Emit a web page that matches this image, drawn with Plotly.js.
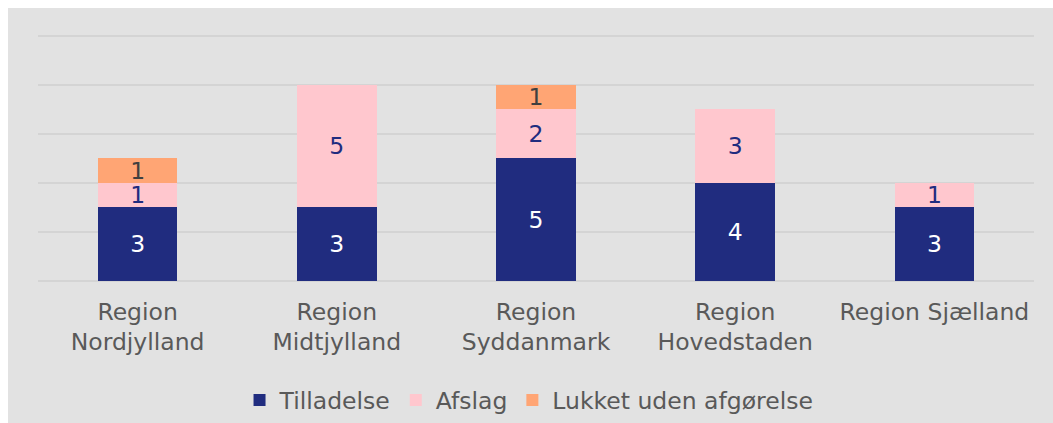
<!DOCTYPE html>
<html>
<head>
<meta charset="utf-8">
<script src="https://cdn.plot.ly/plotly-3.0.1.min.js"></script>
<style>
  html, body { margin: 0; padding: 0; background: #ffffff; }
  #chart { position: absolute; left: 8px; top: 8px; width: 1045px; height: 415px; }
</style>
</head>
<body>
<div id="chart"></div>
<script>
const categories = ["Region<br>Nordjylland", "Region<br>Midtjylland", "Region<br>Syddanmark", "Region<br>Hovedstaden", "Region Sjælland"];
const tilladelse = [3, 3, 5, 4, 3];
const afslag = [1, 5, 2, 3, 1];
const lukket = [1, null, 1, null, null];
const seriesNames = ["Tilladelse", "Afslag", "Lukket uden afgørelse"];

const FONT = "Verdana, 'DejaVu Sans', sans-serif";
const FS = 23.5;

function labels(arr) { return arr.map(v => (v === null ? "" : String(v))); }

const common = {
  type: "bar",
  x: categories,
  textposition: "inside",
  insidetextanchor: "middle",
  constraintext: "none",
  textangle: 0,
  hoverinfo: "none",
  cliponaxis: false
};

const traces = [
  Object.assign({}, common, {
    name: seriesNames[0], y: tilladelse, text: labels(tilladelse),
    marker: { color: "#202c7f" },
    insidetextfont: { family: FONT, size: FS, color: "#ffffff" }
  }),
  Object.assign({}, common, {
    name: seriesNames[1], y: afslag, text: labels(afslag),
    marker: { color: "#ffc7ce" },
    insidetextfont: { family: FONT, size: FS, color: "#202c7f" }
  }),
  Object.assign({}, common, {
    name: seriesNames[2], y: lukket, text: labels(lukket),
    marker: { color: "#ffa574" },
    insidetextfont: { family: FONT, size: FS, color: "#404040" }
  })
];

const layout = {
  width: 1045, height: 415,
  margin: { l: 30, r: 19, t: 26, b: 142 },
  paper_bgcolor: "#e2e2e2",
  plot_bgcolor: "#e2e2e2",
  barmode: "stack",
  bargap: 0.6,
  font: { family: FONT, color: "#595959", size: FS },
  xaxis: {
    type: "category",
    showgrid: false,
    showline: false,
    zeroline: false,
    ticks: "",
    ticklabelstandoff: 14,
    automargin: false,
    tickfont: { family: FONT, size: FS, color: "#595959" }
  },
  yaxis: {
    range: [0, 10.08],
    tickvals: [0, 2, 4, 6, 8, 10],
    showticklabels: false,
    showgrid: true,
    gridcolor: "#d4d4d4",
    gridwidth: 2,
    zeroline: true,
    zerolinecolor: "#d4d4d4",
    zerolinewidth: 2,
    showline: false,
    ticks: "",
    automargin: false
  },
  showlegend: true,
  legend: {
    orientation: "h",
    xref: "paper",
    x: 0.493, xanchor: "center",
    yref: "container",
    y: 0.055, yanchor: "middle",
    traceorder: "normal",
    font: { family: FONT, size: FS, color: "#595959" },
    bgcolor: "rgba(0,0,0,0)",
    itemclick: false, itemdoubleclick: false
  }
};

Plotly.newPlot("chart", traces, layout, { staticPlot: true, displayModeBar: false });
</script>
</body>
</html>
